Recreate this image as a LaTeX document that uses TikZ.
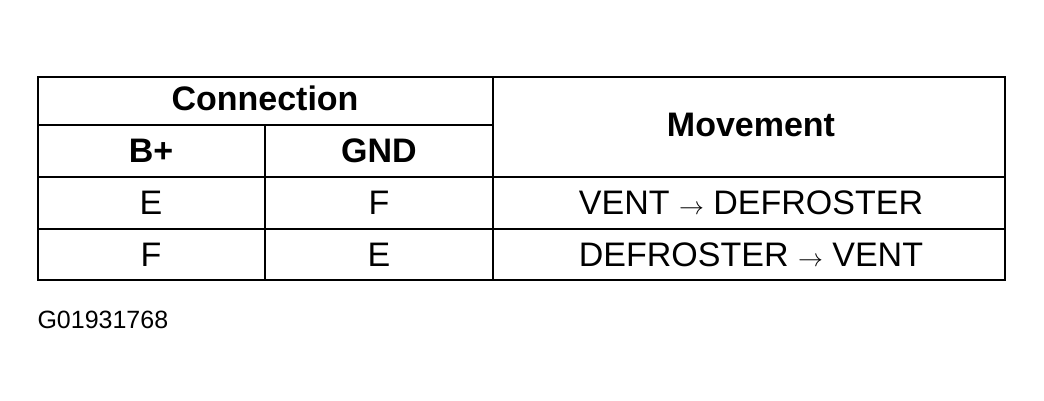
\documentclass[tikz,border=0pt]{standalone}
\usepackage{fontspec}
\setmainfont{Liberation Sans}
\begin{document}
\begin{tikzpicture}[x=1pt,y=-1pt,
  ln/.style={line width=2pt},
  hd/.style={font=\fontsize{34}{34}\selectfont\bfseries},
  cell/.style={font=\fontsize{34}{34}\selectfont}]
\useasboundingbox (0,0) rectangle (1044,401);
\draw[ln] (38,77) rectangle (1005,280);
\draw[ln] (493,77) -- (493,280);
\draw[ln] (265,125) -- (265,280);
\draw[ln] (38,125) -- (493,125);
\draw[ln] (38,177) -- (1005,177);
\draw[ln] (38,229) -- (1005,229);
\node[hd] (conn) at (265,98) {Connection};
\node[hd] (mov) at (751,125) {Movement};
\node[hd] (bp) at (151,151) {B+};
\node[hd] (gnd) at (379,151) {GND};
\node[cell] (e1) at (151,203) {E};
\node[cell] (f1) at (379,203) {F};
\node[cell] (m1) at (751,203) {VENT $\rightarrow$ DEFROSTER};
\node[cell] (f2) at (151,255) {F};
\node[cell] (e2) at (379,255) {E};
\node[cell] (m2) at (751,255) {DEFROSTER $\rightarrow$ VENT};
\node[font=\fontsize{25}{25}\selectfont,anchor=west] (id) at (34,320) {G01931768};
\end{tikzpicture}
\end{document}
